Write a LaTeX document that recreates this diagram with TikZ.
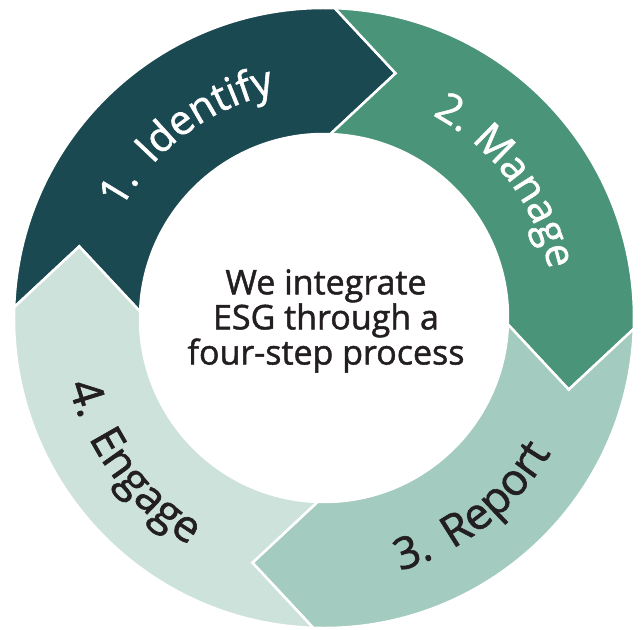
\documentclass[tikz,border=0pt]{standalone}
\usepackage{fontspec}
\setmainfont{Open Sans}
\newfontfamily\ringfont{Open Sans}[FakeBold=1.4]
\usetikzlibrary{decorations.text}
\definecolor{deepteal}{HTML}{1B4951}
\definecolor{midgreen}{HTML}{4A9479}
\definecolor{sage}{HTML}{A3CBBF}
\definecolor{mist}{HTML}{CDE2DB}
\definecolor{inkgray}{HTML}{231F20}
\begin{document}
\begin{tikzpicture}[x=1pt,y=1pt,
  ringseg/.style={draw=white,line width=2.5pt,line join=miter},
  toplabel/.style={decorate,decoration={text along path,text align=center,text={|\ringfont\fontsize{41}{41}\selectfont\color{white}|#1}}},
  lowlabel/.style={decorate,decoration={text along path,text align=center,text={|\ringfont\fontsize{44}{44}\selectfont\color{inkgray}|#1}}}]
\useasboundingbox (-324,-312) rectangle (317,318);
\foreach \a/\c in {178/deepteal,88/midgreen,-2/sage,-92/mist}
  \filldraw[ringseg,fill=\c] (\a:310) arc[start angle=\a,end angle=\a-90,radius=310] -- ({\a-104.3}:255) -- ({\a-90}:184) arc[start angle=\a-90,end angle=\a,radius=184] -- ({\a-14.3}:255) -- cycle;
\path[toplabel={1.{\kern20pt}Identify}] (167:230) arc[start angle=167,end angle=87,radius=230];
\path[toplabel={2.{\kern12pt}Manage}] (77:230) arc[start angle=77,end angle=-3,radius=230];
\path[lowlabel={3.{\kern20pt}Report}] (-92:264) arc[start angle=-92,end angle=-12,radius=264];
\path[lowlabel={4.{\kern20pt}Engage}] (-183:264) arc[start angle=-183,end angle=-103,radius=264];
\node[align=center,font=\ringfont\fontsize{34}{33}\selectfont,text=inkgray] (core) at (2,-3) {We integrate\\ESG through a\\four-step process};
\end{tikzpicture}
\end{document}
